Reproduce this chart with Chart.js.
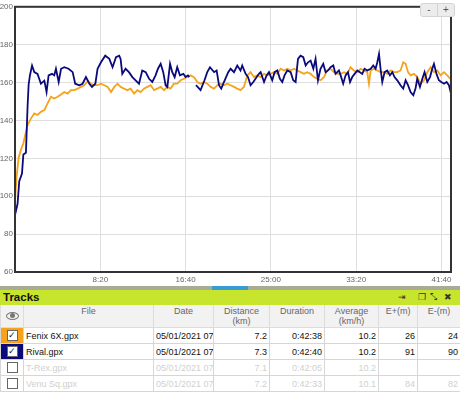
<!DOCTYPE html>
<html><head><meta charset="utf-8">
<script src="https://cdn.jsdelivr.net/npm/chart.js@4.4.0/dist/chart.umd.min.js"></script>
<style>
html,body{margin:0;padding:0;background:#fff;width:460px;height:395px;overflow:hidden;font-family:"Liberation Sans",Arial,sans-serif;}
#wrap{position:relative;width:460px;height:395px;}
#c{position:absolute;left:0;top:0;}
.zb{position:absolute;top:3px;width:16px;height:12px;background:#ececec;border:1px solid #d4d4d4;color:#555;font-size:10px;line-height:12px;text-align:center;}
#zm{left:420px;border-radius:3px 0 0 3px;}
#zp{left:437px;border-radius:0 3px 3px 0;}
#scroll{position:absolute;left:0;top:286px;width:460px;height:4px;background:#a9ab97;}
#scrollthumb{position:absolute;left:212px;top:286px;width:36px;height:4px;background:#3a9ad6;}
#hdr{position:absolute;left:0;top:290px;width:460px;height:15px;background:#c6e52c;}
#hdr .t{position:absolute;left:3px;top:0px;font-weight:bold;font-size:11.5px;line-height:15px;color:#111;}
#hdr .i{position:absolute;top:0;font-size:9px;line-height:15px;color:#333;}
table{position:absolute;left:0;top:305px;border-collapse:collapse;table-layout:fixed;width:460px;font-size:9px;}
th{height:21px;background:#f2f2f2;color:#666;font-weight:normal;border:1px solid #dcdcdc;border-top:none;padding:0;line-height:10px;vertical-align:top;padding-top:1px;text-align:center;}
td{height:15px;border:1px solid #d6d6d6;padding:0 2px;white-space:nowrap;overflow:hidden;color:#111;}
td.n{text-align:right;}
tr.off td{color:#d0d0d0;}
td.cb{padding:0;text-align:center;}
.box{display:inline-block;width:9px;height:9px;border:1px solid #666;background:#fff;vertical-align:middle;font-size:9px;line-height:9px;color:#123;text-align:center;}
.eye{display:inline-block;width:11px;height:6px;border:1px solid #777;border-radius:50%;position:relative;margin-top:6px;}
.eye:after{content:"";position:absolute;left:3px;top:0px;width:5px;height:5px;border-radius:50%;background:#777;}
</style></head>
<body><div id="wrap">
<canvas id="c" width="460" height="286"></canvas>
<div class="zb" id="zm">-</div><div class="zb" id="zp">+</div>
<div id="scroll"></div><div id="scrollthumb"></div>
<div id="hdr"><span class="t">Tracks</span>
<span class="i" style="left:398px;">⇥</span><span class="i" style="left:418px;">❐</span><span class="i" style="left:430px;">⤡</span><span class="i" style="left:444px;">✖</span></div>
<table id="tbl"></table>
</div>
<script>
// ---- chart data ----
const yTicks = [60, 80, 100, 120, 140, 160, 180, 200];
const xTicks = [500, 1000, 1500, 2000, 2500]; // seconds

const fenixTimes = [
  0, 9, 21, 35, 49, 60, 74, 94, 113, 132,
  152, 172, 191, 211, 230, 250, 270, 289, 308, 328,
  348, 367, 387, 406, 426, 446, 465, 484, 504, 523,
  543, 563, 582, 601, 619, 639, 658, 678, 698, 717,
  736, 756, 776, 795, 815, 834, 854, 873, 893, 912,
  932, 951, 971, 991, 1010, 1029, 1049, 1069, 1088, 1108,
  1127, 1147, 1167, 1186, 1205, 1225, 1245, 1264, 1284, 1303,
  1322, 1342, 1362, 1381, 1401, 1420, 1440, 1460, 1479, 1498,
  1518, 1538, 1557, 1577, 1596, 1616, 1635, 1655, 1674, 1694,
  1713, 1733, 1753, 1772, 1791, 1811, 1831, 1850, 1870, 1889,
  1909, 1929, 1948, 1967, 1987, 2007, 2026, 2046, 2065, 2075,
  2085, 2104, 2124, 2143, 2163, 2182, 2202, 2222, 2241, 2260,
  2276, 2290, 2304, 2319, 2339, 2358, 2378, 2398, 2417, 2437,
  2456, 2476, 2495, 2515, 2534, 2552
];
const fenixHR = [
  97.6, 109.8, 120.2, 124.6, 128, 132.4, 137.7, 141.1, 143.7, 142.9,
  144.6, 145.5, 149, 152.5, 151.6, 152.5, 153.7, 155, 154.2, 156,
  156, 156.8, 157.7, 158.6, 160.7, 159.4, 158.6, 158.6, 159.4, 158.6,
  157.7, 155, 157.7, 159.4, 157.7, 156.8, 156, 156.8, 154.2, 156,
  155, 156.8, 157.7, 158.6, 156, 156.8, 157.7, 156, 157.7, 156.8,
  159.4, 159.4, 161.2, 162, 162.9, 163.8, 162.9, 160.3, 159.4, 160.3,
  159.4, 157.7, 156.8, 158.6, 159.4, 158.6, 159.4, 158.6, 157.7, 156.8,
  156, 157.7, 163.8, 165.5, 162.9, 163.8, 162.9, 164.6, 163.8, 164.6,
  165.5, 164.6, 167.3, 166.4, 167.3, 166.4, 167.3, 166.4, 165.5, 164.6,
  165.5, 164.6, 162.9, 162, 161.2, 162.9, 166.4, 167.3, 165.5, 164.6,
  164.6, 165.5, 164.6, 168.1, 166.4, 165.5, 167.3, 166.4, 165.5, 159.4,
  166.4, 167.3, 166.4, 165.5, 165.5, 164.6, 166.4, 165.5, 165.5, 166.4,
  170.7, 169.9, 165.5, 163.8, 164.6, 162.9, 159.4, 161.2, 165.5, 168.1,
  165.5, 166.4, 163.8, 165.5, 163.8, 162
];

const rivalTimes = [
  0, 15, 25, 41, 49, 64, 74, 80, 88, 100,
  113, 132, 152, 172, 185, 197, 217, 230, 240, 256,
  270, 289, 314, 338, 353, 377, 396, 416, 436, 451,
  471, 484, 504, 529, 553, 572, 592, 611, 619, 629,
  648, 668, 688, 707, 727, 746, 766, 786, 805, 824,
  838, 854, 869, 883, 893, 909, 922, 936, 951, 967,
  987, 1000, 1014, 1022, 1040, 1061, 1088, 1111, 1127, 1143,
  1167, 1182, 1196, 1209, 1221, 1250, 1264, 1284, 1303, 1322,
  1332, 1352, 1366, 1381, 1397, 1410, 1430, 1440, 1460, 1475,
  1489, 1508, 1522, 1538, 1553, 1567, 1580, 1596, 1616, 1631,
  1645, 1659, 1674, 1690, 1704, 1718, 1733, 1749, 1762, 1776,
  1791, 1807, 1821, 1835, 1850, 1866, 1879, 1899, 1909, 1924,
  1938, 1952, 1964, 1977, 1991, 2007, 2022, 2036, 2049, 2065,
  2085, 2100, 2114, 2124, 2134, 2143, 2153, 2167, 2182, 2198,
  2212, 2225, 2241, 2260, 2276, 2290, 2304, 2319, 2335, 2348,
  2358, 2374, 2388, 2401, 2417, 2433, 2446, 2456, 2471, 2485,
  2499, 2515, 2530, 2544, 2556
];
const rivalHR = [
  90, 96, 108, 112, 122, 123, 148, 159, 164, 169,
  165.5, 164.6, 159.4, 161, 155, 163.8, 164.6, 163.8, 167.3, 160.3,
  167.3, 168.1, 167.3, 165.5, 159.4, 158.6, 159.4, 162.9, 159.4, 157.7,
  159.4, 167.3, 170.7, 174.2, 172.5, 168.1, 173.4, 174.2, 172.5, 164.6,
  167.3, 165.5, 162.9, 161.2, 159.4, 166.4, 165.5, 162, 160.3, 163.8,
  167.3, 169.9, 165.5, 158.6, 157.7, 169.9, 165.5, 162.9, 168.1, 163.8,
  164.6, 162.9, 163.8, 162.9, null, 158.6, 156, 161.2, 165.5, 168.1,
  165.5, 166.4, 158.6, 156.8, 159.4, 165.5, 167.3, 165.5, 169, 166.4,
  169, 164.6, 162.9, 158.6, 160.3, 162, 164.6, 165.5, 160.3, 163.8,
  165.5, 161.2, 165.5, 166.4, 162, 160.3, 163.8, 166.4, 165.5, 161.2,
  160.3, 172.5, 174.2, 173.4, 169, 170.7, 171.6, 167.3, 172.5, 161.2,
  167.3, 169.9, 165.5, 166.4, 168.1, 169, 164.6, 166.4, 163.8, 159.4,
  163.8, 165.5, 160.3, 162.9, 164.6, 166.4, 165.5, 164.6, 167.3, 166.4,
  167.3, 169, 167.3, 170.7, 175.1, 167.3, 160.3, 165.5, 166.4, 163.8,
  165.5, 162.9, 161.2, 158.6, 156.8, 161.2, 158.6, 155, 153.3, 156.8,
  162, 157.7, 162, 165.5, 160.3, 162.9, 167.3, 169.9, 164.6, 161.2,
  160.3, 159.4, 160.3, 158.6, 154.2
];

// ---- table data ----
const trackFiles = ['Fenix 6X.gpx', 'Rival.gpx', 'T-Rex.gpx', 'Venu Sq.gpx'];
const trackDates = ['05/01/2021 07:', '05/01/2021 07:', '05/01/2021 07:', '05/01/2021 07:'];
const trackDistance = ['7.2', '7.3', '7.1', '7.2'];
const trackDuration = ['0:42:38', '0:42:40', '0:42:05', '0:42:33'];
const trackAverage = ['10.2', '10.2', '10.2', '10.1'];
const trackEplus = ['26', '91', '', '84'];
const trackEminus = ['24', '90', '', '82'];
const trackChecked = [true, true, false, false];
const trackColors = ['#f5a31a', '#0a0a7c', null, null];

// build table
const tbl = document.getElementById('tbl');
const widths = [23, 130, 60, 56, 55, 54, 39, 43];
let html = '<colgroup>' + widths.map(w => '<col style="width:' + w + 'px">').join('') + '</colgroup>';
html += '<tr><th><span class="eye"></span></th><th>File</th><th>Date</th><th>Distance<br>(km)</th><th>Duration</th><th>Average<br>(km/h)</th><th>E+(m)</th><th>E-(m)</th></tr>';
for (let i = 0; i < trackFiles.length; i++) {
  const bg = trackColors[i] ? ' style="background:' + trackColors[i] + '"' : '';
  html += '<tr class="' + (trackChecked[i] ? 'on' : 'off') + '">' +
    '<td class="cb"' + bg + '><span class="box">' + (trackChecked[i] ? '✓' : '') + '</span></td>' +
    '<td>' + trackFiles[i] + '</td><td>' + trackDates[i] + '</td>' +
    '<td class="n">' + trackDistance[i] + '</td><td class="n">' + trackDuration[i] + '</td>' +
    '<td class="n">' + trackAverage[i] + '</td><td class="n">' + trackEplus[i] + '</td>' +
    '<td class="n">' + trackEminus[i] + '</td></tr>';
}
tbl.innerHTML = html;

// chart
function fmt(s) { const m = Math.floor(s / 60), r = s % 60; return m + ':' + (r < 10 ? '0' : '') + r; }
const frame = {
  id: 'frame',
  afterDatasetsDraw(chart) {
    const a = chart.chartArea, ctx = chart.ctx;
    ctx.save(); ctx.strokeStyle = '#333'; ctx.lineWidth = 2;
    ctx.strokeRect(a.left, a.top, a.right - a.left, a.bottom - a.top);
    ctx.restore();
  }
};
new Chart(document.getElementById('c'), {
  type: 'line',
  data: {
    datasets: [
      { label: 'Fenix 6X', data: fenixTimes.map((t, i) => ({ x: t, y: fenixHR[i] })), borderColor: trackColors[0], borderWidth: 1.8, pointRadius: 0, order: 1 },
      { label: 'Rival', data: rivalTimes.map((t, i) => ({ x: t, y: rivalHR[i] })), borderColor: trackColors[1], borderWidth: 1.8, pointRadius: 0, order: 0 }
    ]
  },
  options: {
    responsive: false, animation: false,
    layout: { padding: { top: 4, right: 9, left: 0, bottom: 0 } },
    plugins: { legend: { display: false }, tooltip: { enabled: false } },
    scales: {
      x: {
        type: 'linear', min: 0, max: 2556,
        afterBuildTicks: s => { s.ticks = xTicks.map(v => ({ value: v })); },
        afterFit: s => { s.height = 14; },
        grid: { color: '#dedede', drawTicks: false },
        border: { display: false },
        ticks: { callback: v => fmt(v), font: { size: 8, family: 'Liberation Sans' }, color: '#666', padding: 3, maxRotation: 0 }
      },
      y: {
        min: 60, max: 200,
        afterBuildTicks: s => { s.ticks = yTicks.map(v => ({ value: v })); },
        afterFit: s => { s.width = 15; },
        grid: { color: '#dedede', drawTicks: false },
        border: { display: false },
        ticks: { font: { size: 8, family: 'Liberation Sans' }, color: '#666', padding: 2 }
      }
    }
  },
  plugins: [frame]
});
</script>
</body></html>
